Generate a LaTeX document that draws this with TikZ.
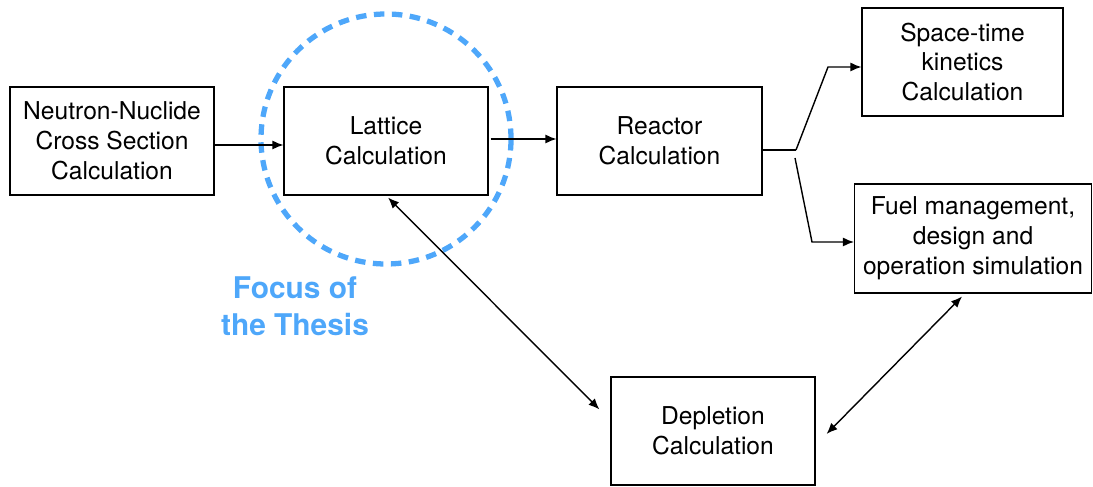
\documentclass[tikz,border=0pt]{standalone}
\usepackage{fontspec}
\setmainfont{TeX Gyre Heros}
\usepackage{tikz}
\usetikzlibrary{arrows.meta,calc}
\definecolor{focusblue}{RGB}{78,167,250}

\begin{document}
\begin{tikzpicture}[line width=0.6pt,
  box/.style={draw,minimum width=4.08cm,minimum height=2.16cm,align=center,inner sep=1pt,
    font=\fontsize{14}{17}\selectfont},
  flow/.style={line width=0.8pt,-{Latex[length=2.2mm,width=1.8mm]}},
  both/.style={line width=0.8pt,{Latex[length=2.2mm,width=1.8mm]}-{Latex[length=2.2mm,width=1.8mm]}}]
\useasboundingbox (0,0) rectangle (21.86,-9.74);
\node[box] (neutron) at (2.24,-2.82) {Neutron-Nuclide\\Cross Section\\Calculation};
\node[box] (lattice) at (7.72,-2.82) {Lattice\\Calculation};
\node[box,minimum width=4.1cm] (reactor) at (13.19,-2.82) {Reactor\\Calculation};
\node[box,minimum width=4.02cm] (spacetime) at (19.25,-1.24) {Space-time\\kinetics\\Calculation};
\node[box,minimum width=4.74cm,minimum height=2.18cm,inner sep=0pt] (fuel) at (19.46,-4.77)
  {Fuel management,\\design and\\operation simulation};
\node[box] (depletion) at (14.26,-8.62) {Depletion\\Calculation};
\draw[focusblue,line width=3pt,dash pattern=on 0.21cm off 0.15cm] (lattice.center) ++(0.0,0.04) circle(2.5);
\node[focusblue,align=center,font=\fontsize{17}{21}\selectfont\bfseries] (focus) at (5.9,-6.12)
  {Focus of\\the Thesis};
\draw[flow] ($(neutron.east)+(0,-0.08)$) -- ($(lattice.west)+(0,-0.08)$);
\draw[flow] ($(lattice.east)+(0.04,0.04)$) -- ($(reactor.west)+(0,0.04)$);
\coordinate (fork) at (15.92,-3.0);
\coordinate (upbend) at (16.56,-1.34);
\coordinate (lowstart) at (15.9,-3.16);
\coordinate (lowbend) at (16.24,-4.84);
\draw (reactor.east |- fork) -- (fork);
\draw[flow] (fork) -- (upbend) -- (spacetime.west |- upbend);
\draw[flow] (lowstart) -- (lowbend) -- (fuel.west |- lowbend);
\draw[both] ($(lattice.south)+(0.04,-0.04)$) -- ($(depletion.north west)+(-0.22,-0.66)$);
\draw[both] ($(fuel.south)+(-0.22,-0.06)$) -- ($(depletion.east)+(0.22,-0.06)$);
\end{tikzpicture}
\end{document}
